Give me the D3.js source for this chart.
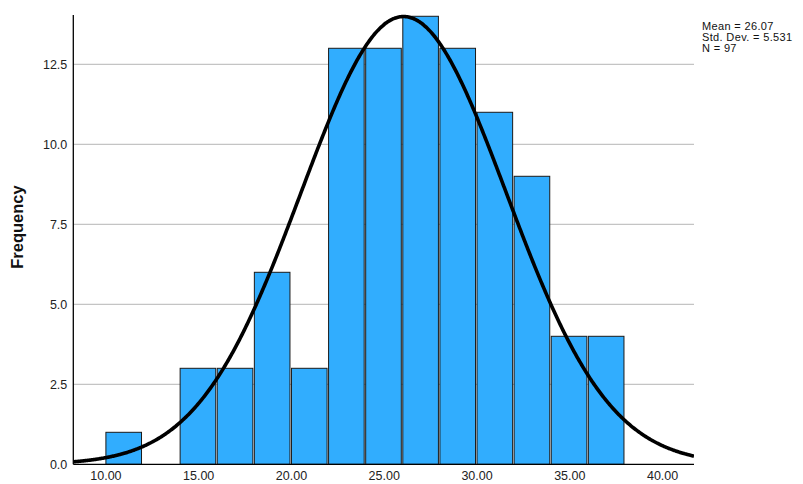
<!DOCTYPE html>
<html><head><meta charset="utf-8">
<script src="https://cdn.jsdelivr.net/npm/d3@7"></script>
<style>body{margin:0;background:#fff}svg{display:block}text{font-family:"Liberation Sans",Arial,sans-serif}</style>
</head><body><svg id="c" width="803" height="484"></svg>
<script>
const binStarts = [10,12,14,16,18,20,22,24,26,28,30,32,34,36];
const binWidth = 2;
const frequencies = [1,0,3,3,6,3,13,13,14,13,11,9,4,4];
const xTicks = [10,15,20,25,30,35,40];
const yTicks = [0,2.5,5,7.5,10,12.5];
const mean = 26.07, sd = 5.531, n = 97;
const statsLines = ["Mean = 26.07","Std. Dev. = 5.531","N = 97"];

const svg = d3.select("#c");
const L = 73.3, R = 694, T = 15, B = 464.3;
const x = d3.scaleLinear().domain([8.27, 41.72]).range([L, R]);
const y = d3.scaleLinear().domain([0, 14.04]).range([B, T]);

// grid
svg.append("g").selectAll("line").data(yTicks.filter(d=>d>0)).join("line")
  .attr("x1", L).attr("x2", R).attr("y1", d=>y(d)).attr("y2", d=>y(d))
  .attr("stroke", "#c4c4c4").attr("stroke-width", 1.3);

// bars
const bins = binStarts.map((s,i)=>({x0:s, x1:s+binWidth, f:frequencies[i]})).filter(d=>d.f>0);
svg.append("g").selectAll("rect").data(bins).join("rect")
  .attr("x", d=>x(d.x0)+0.5).attr("width", d=>x(d.x1)-x(d.x0)-1.5)
  .attr("y", d=>y(d.f)).attr("height", d=>y(0)-y(d.f))
  .attr("fill", "#31adfe").attr("stroke", "#1a1a1a").attr("stroke-width", 1);

// normal curve
svg.append("clipPath").attr("id","pc").append("rect")
  .attr("x", L).attr("y", 0).attr("width", R-L).attr("height", B);
const pts = d3.range(8.27, 41.73, 0.05);
const pdf = v => n*binWidth/(sd*Math.sqrt(2*Math.PI))*Math.exp(-0.5*((v-mean)/sd)**2);
svg.append("path").datum(pts)
  .attr("clip-path","url(#pc)")
  .attr("d", d3.line().x(d=>x(d)).y(d=>y(pdf(d))).curve(d3.curveBasis))
  .attr("fill","none").attr("stroke","#000").attr("stroke-width",3.6);

// axes
const yAxis = svg.append("g").attr("transform", `translate(${L},0)`)
  .call(d3.axisLeft(y).tickValues(yTicks).tickFormat(d3.format(".1f")).tickSize(0).tickPadding(6));
yAxis.select(".domain").remove();
yAxis.selectAll("text").attr("font-size", 12.5).attr("fill", "#222");
const xAxis = svg.append("g").attr("transform", `translate(0,${B})`)
  .call(d3.axisBottom(x).tickValues(xTicks).tickFormat(d3.format(".2f")).tickSize(0).tickPadding(7));
xAxis.select(".domain").remove();
xAxis.selectAll("text").attr("font-size", 12.5).attr("fill", "#222");

svg.append("line").attr("x1", L).attr("x2", L).attr("y1", T).attr("y2", B)
  .attr("stroke","#000").attr("stroke-width",1.3);
svg.append("line").attr("x1", L).attr("x2", R).attr("y1", B).attr("y2", B)
  .attr("stroke","#000").attr("stroke-width",1.3);

// y title
svg.append("text").attr("transform","translate(23,227) rotate(-90)")
  .attr("text-anchor","middle").attr("font-size",16.5).attr("font-weight","bold")
  .attr("fill","#111").text("Frequency");

// stats
svg.append("g").selectAll("text").data(statsLines).join("text")
  .attr("x", 702).attr("y", (d,i)=>30+i*11)
  .attr("font-size", 11).attr("letter-spacing", 0.35).attr("fill","#111").text(d=>d);
</script></body></html>
